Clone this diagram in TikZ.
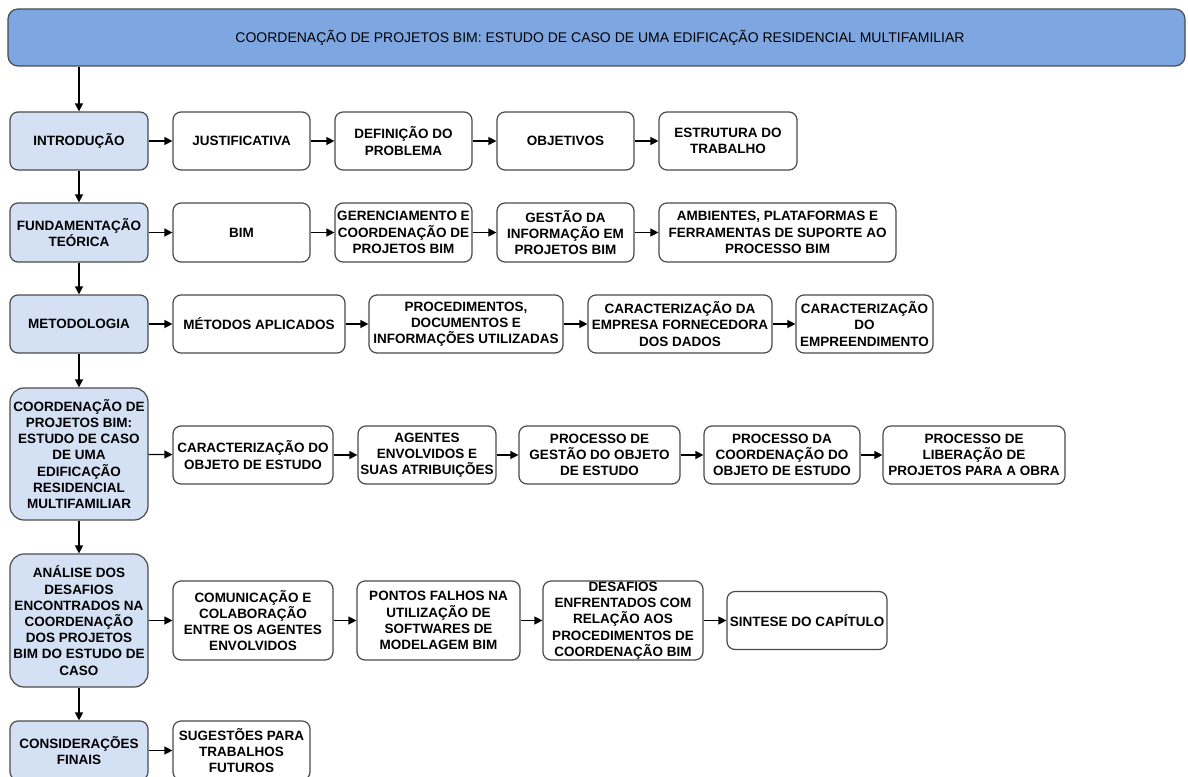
\documentclass[tikz,border=0pt]{standalone}
\usepackage{fontspec}
\setmainfont{Liberation Sans}
\usetikzlibrary{arrows.meta}
\definecolor{titleblue}{HTML}{7EA6E0}
\definecolor{secblue}{HTML}{D4E1F5}
\definecolor{edge}{HTML}{4A4A4A}
\tikzset{
  box/.style={draw=edge, line width=1.2pt, rounded corners=8pt, fill=white,
    align=center, inner sep=0pt, text=black,
    font=\bfseries\fontsize{13.5}{16.2}\selectfont},
  sec/.style={box, fill=secblue},
  head/.style={box, fill=titleblue, rounded corners=10pt,
    font=\fontsize{14}{16.8}\selectfont},
  sz/.style 2 args={minimum width=#1pt, minimum height=#2pt},
  conn/.style={-{Triangle[length=8pt,width=8pt]}, line width=1.3pt, draw=black}
}
\begin{document}
\begin{tikzpicture}[x=1pt,y=-1pt]
\useasboundingbox (0,0) rectangle (1188,776);
\clip (0,0) rectangle (1188,776);

% title bar
\node[head, sz={1177}{57}] (title) at (596.5,37.5)
  {\hspace*{7pt}COORDENAÇÃO DE PROJETOS BIM: ESTUDO DE CASO DE UMA EDIFICAÇÃO RESIDENCIAL MULTIFAMILIAR};

% chapter column
\node[sec, sz={138}{58}]  (intro) at (79,141) {INTRODUÇÃO};
\node[sec, sz={138}{59}]  (fund)  at (79,232.5) {FUNDAMENTAÇÃO\\TEÓRICA};
\node[sec, sz={138}{58}]  (met)   at (79,324) {METODOLOGIA};
\node[sec, rounded corners=14pt, sz={138}{132}] (coord) at (79,454)
  {COORDENAÇÃO DE\\PROJETOS BIM:\\ESTUDO DE CASO\\DE UMA\\EDIFICAÇÃO\\RESIDENCIAL\\MULTIFAMILIAR};
\node[sec, rounded corners=14pt, sz={138}{133}] (anal) at (79,620.5)
  {ANÁLISE DOS\\DESAFIOS\\ENCONTRADOS NA\\COORDENAÇÃO\\DOS PROJETOS\\BIM DO ESTUDO DE\\CASO};
\node[sec, sz={138}{59}]  (cons)  at (79,750.5) {CONSIDERAÇÕES\\FINAIS};

% row 1
\node[box, sz={137}{58}] (just) at (241.5,141) {JUSTIFICATIVA};
\node[box, sz={137}{58}] (defp) at (403.5,141) {DEFINIÇÃO DO\\PROBLEMA};
\node[box, sz={137}{58}] (obj)  at (565.5,141) {OBJETIVOS};
\node[box, sz={138}{58}] (estr) at (728,141) {ESTRUTURA DO\\TRABALHO};

% row 2
\node[box, sz={137}{59}] (bim)  at (241.5,232.5) {BIM};
\node[box, sz={137}{59}] (ger)  at (403.5,232.5) {GERENCIAMENTO E\\COORDENAÇÃO DE\\PROJETOS BIM};
\node[box, sz={137}{59}] (gest) at (565.5,232.5) {GESTÃO DA\\INFORMAÇÃO EM\\PROJETOS BIM};
\node[box, sz={237}{59}] (amb)  at (777.5,232.5) {AMBIENTES, PLATAFORMAS E\\FERRAMENTAS DE SUPORTE AO\\PROCESSO BIM};

% row 3
\node[box, sz={172}{58}] (mapl) at (259,324) {MÉTODOS APLICADOS};
\node[box, sz={194}{58}] (proc) at (466,324) {PROCEDIMENTOS,\\DOCUMENTOS E\\INFORMAÇÕES UTILIZADAS};
\node[box, sz={184}{58}] (emp)  at (680,324) {CARACTERIZAÇÃO DA\\EMPRESA FORNECEDORA\\DOS DADOS};
\node[box, sz={137}{58}] (empr) at (864.5,324) {CARACTERIZAÇÃO\\DO\\EMPREENDIMENTO};

% row 4
\node[box, sz={160}{58}] (cobj) at (253,455) {CARACTERIZAÇÃO DO\\OBJETO DE ESTUDO};
\node[box, sz={138}{58}] (ag)   at (427,455) {AGENTES\\ENVOLVIDOS E\\SUAS ATRIBUIÇÕES};
\node[box, sz={161}{58}] (pges) at (599.5,455) {PROCESSO DE\\GESTÃO DO OBJETO\\DE ESTUDO};
\node[box, sz={156}{58}] (pcoo) at (782,455) {PROCESSO DA\\COORDENAÇÃO DO\\OBJETO DE ESTUDO};
\node[box, sz={182}{58}] (plib) at (974,455) {PROCESSO DE\\LIBERAÇÃO DE\\PROJETOS PARA A OBRA};

% row 5
\node[box, sz={160}{79}] (com)  at (253,620.5) {COMUNICAÇÃO E\\COLABORAÇÃO\\ENTRE OS AGENTES\\ENVOLVIDOS};
\node[box, sz={163}{79}] (pf)   at (438.5,620.5) {PONTOS FALHOS NA\\UTILIZAÇÃO DE\\SOFTWARES DE\\MODELAGEM BIM};
\node[box, sz={160}{79}] (des)  at (623,620.5) {DESAFIOS\\ENFRENTADOS COM\\RELAÇÃO AOS\\PROCEDIMENTOS DE\\COORDENAÇÃO BIM};
\node[box, sz={160}{58}] (sint) at (807,620.5) {SINTESE DO CAPÍTULO};

% row 6
\node[box, sz={137}{59}] (sug)  at (241.5,750.5) {SUGESTÕES PARA\\TRABALHOS\\FUTUROS};

% vertical flow
\draw[conn] (title.south -| intro) -- (intro);
\draw[conn] (intro) -- (fund);
\draw[conn] (fund) -- (met);
\draw[conn] (met) -- (coord);
\draw[conn] (coord) -- (anal);
\draw[conn] (anal) -- (cons);

% horizontal flows
\draw[conn] (intro) -- (just);
\draw[conn] (just) -- (defp);
\draw[conn] (defp) -- (obj);
\draw[conn] (obj) -- (estr);

\draw[conn] (fund) -- (bim);
\draw[conn] (bim) -- (ger);
\draw[conn] (ger) -- (gest);
\draw[conn] (gest) -- (amb);

\draw[conn] (met) -- (mapl);
\draw[conn] (mapl) -- (proc);
\draw[conn] (proc) -- (emp);
\draw[conn] (emp) -- (empr);

\draw[conn] (coord) -- (cobj);
\draw[conn] (cobj) -- (ag);
\draw[conn] (ag) -- (pges);
\draw[conn] (pges) -- (pcoo);
\draw[conn] (pcoo) -- (plib);

\draw[conn] (anal) -- (com);
\draw[conn] (com) -- (pf);
\draw[conn] (pf) -- (des);
\draw[conn] (des) -- (sint);

\draw[conn] (cons) -- (sug);
\end{tikzpicture}
\end{document}
